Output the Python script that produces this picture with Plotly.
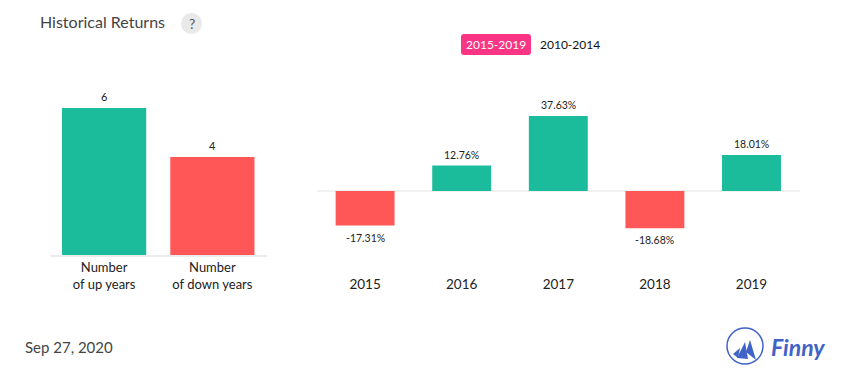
import plotly.graph_objects as go

W, H = 855, 382
count_labels = ["Number<br>of up years", "Number<br>of down years"]
count_values = [6, 4]
years = ["2015", "2016", "2017", "2018", "2019"]
returns = [-17.31, 12.76, 37.63, -18.68, 18.01]
return_labels = ["-17.31%", "12.76%", "37.63%", "-18.68%", "18.01%"]
UP, DOWN = "#1abc9c", "#ff5757"
FONT = "Lato, sans-serif"


def px(x):
    return x / W


def py(y):
    return 1 - y / H


fig = go.Figure()
fig.add_bar(
    x=count_labels, y=count_values, xaxis="x", yaxis="y",
    marker=dict(color=[UP, DOWN], line_width=0), width=0.778, cliponaxis=False, hoverinfo="skip",
)
fig.add_bar(
    x=years, y=returns, xaxis="x2", yaxis="y2",
    marker=dict(color=[UP if v >= 0 else DOWN for v in returns], line_width=0), width=0.61,
    cliponaxis=False, hoverinfo="skip",
)


def rounded(x0, y0, x1, y1, r):
    a, b, c, d = px(x0), py(y0), px(x1), py(y1)
    rx, ry = r / W, r / H
    return (f"M {a+rx:.5f},{b:.5f} L {c-rx:.5f},{b:.5f} Q {c:.5f},{b:.5f} {c:.5f},{b-ry:.5f} "
            f"L {c:.5f},{d+ry:.5f} Q {c:.5f},{d:.5f} {c-rx:.5f},{d:.5f} L {a+rx:.5f},{d:.5f} "
            f"Q {a:.5f},{d:.5f} {a:.5f},{d+ry:.5f} L {a:.5f},{b-ry:.5f} Q {a:.5f},{b:.5f} {a+rx:.5f},{b:.5f} Z")


shapes = [
    dict(type="circle", xref="paper", yref="paper", x0=px(181), x1=px(202), y0=py(34), y1=py(13),
         fillcolor="#e9e9e9", line_width=0),
    dict(type="path", xref="paper", yref="paper", path=rounded(461, 34, 531, 55, 3),
         fillcolor="#fb3585", line_width=0),
    dict(type="circle", xref="paper", yref="paper", x0=px(727), x1=px(763), y0=py(364), y1=py(328),
         fillcolor="rgba(0,0,0,0)", line=dict(color="#3f63c8", width=1.5)),
    dict(type="line", xref="paper", yref="y2", x0=px(317), x1=px(800), y0=0, y1=0,
         line=dict(color="#ececec", width=1.5), layer="below"),
]
# Sails of the logo, in pixel positions converted to paper coordinates
sails = [
    [(733, 354), (740, 348), (738, 358)],
    [(737, 358), (745, 342), (748, 359)],
    [(746, 352), (750, 340), (756, 360)],
]
for pts in sails:
    d = "M " + " L ".join(f"{px(a):.5f},{py(b):.5f}" for a, b in pts) + " Z"
    shapes.append(dict(type="path", xref="paper", yref="paper", path=d, fillcolor="#3f63c8", line_width=0))


def note(text, x, y, size, color, **kw):
    return dict(text=text, x=px(x), y=py(y), xref="paper", yref="paper", showarrow=False,
                font=dict(size=size, color=color, family=kw.pop("family", FONT)),
                xanchor=kw.pop("xanchor", "center"), yanchor="middle", **kw)


annotations = [
    note("Historical Returns", 38, 21.5, 16, "#444", xanchor="left"),
    note("?", 191.5, 23.5, 14, "#555"),
    note("2015-2019", 496, 44.5, 12, "#fff"),
    note("2010-2014", 570, 44.5, 12, "#111"),
    note("Sep 27, 2020", 23, 347, 15, "#444", xanchor="left"),
    note("<b><i>Finny</i></b>", 798, 347, 23, "#3f63c8"),
]
# Value labels anchored to the data, with a fixed gap from the bar end.
# On a category axis an annotation's x is the category's index.
for i, value in enumerate(count_values):
    annotations.append(dict(x=i, y=value, xref="x", yref="y", text=str(value), showarrow=False,
                            yanchor="bottom", yshift=3, font=dict(size=11, color="#222", family=FONT)))
for i, (value, text) in enumerate(zip(returns, return_labels)):
    annotations.append(dict(x=i, y=value, xref="x2", yref="y2", text=text, showarrow=False,
                            yanchor="bottom" if value >= 0 else "top", yshift=3 if value >= 0 else -4,
                            font=dict(size=10.5, color="#222", family=FONT)))

fig.update_layout(
    width=W, height=H, margin=dict(l=0, r=0, t=0, b=0), autosize=False,
    paper_bgcolor="white", plot_bgcolor="white", showlegend=False, barmode="overlay",
    font=dict(family=FONT), shapes=shapes, annotations=annotations,
    xaxis=dict(domain=[px(50), px(266.5)], anchor="y", type="category", range=[-0.5, 1.5], showline=True,
               linecolor="#ececec", linewidth=1.5, ticks="", automargin=False,
               tickfont=dict(size=13, color="#222", family=FONT), showgrid=False, zeroline=False),
    yaxis=dict(domain=[py(255), py(60)], range=[0, 195 / 24.5], visible=False, showgrid=False),
    xaxis2=dict(domain=[px(316.8), px(799.8)], anchor="y2", type="category", range=[-0.5, 4.5], ticks="",
                ticklen=0, automargin=False, tickfont=dict(size=13.5, color="#222", family=FONT),
                showgrid=False, zeroline=False, showline=False),
    yaxis2=dict(domain=[py(274), py(60)], range=[-83 / 1.993, 131 / 1.993], visible=False, showgrid=False),
)
fig.write_html("out.html", config=dict(displayModeBar=False),
               post_script="document.body.style.margin='0';window.scrollTo(0,0);")
